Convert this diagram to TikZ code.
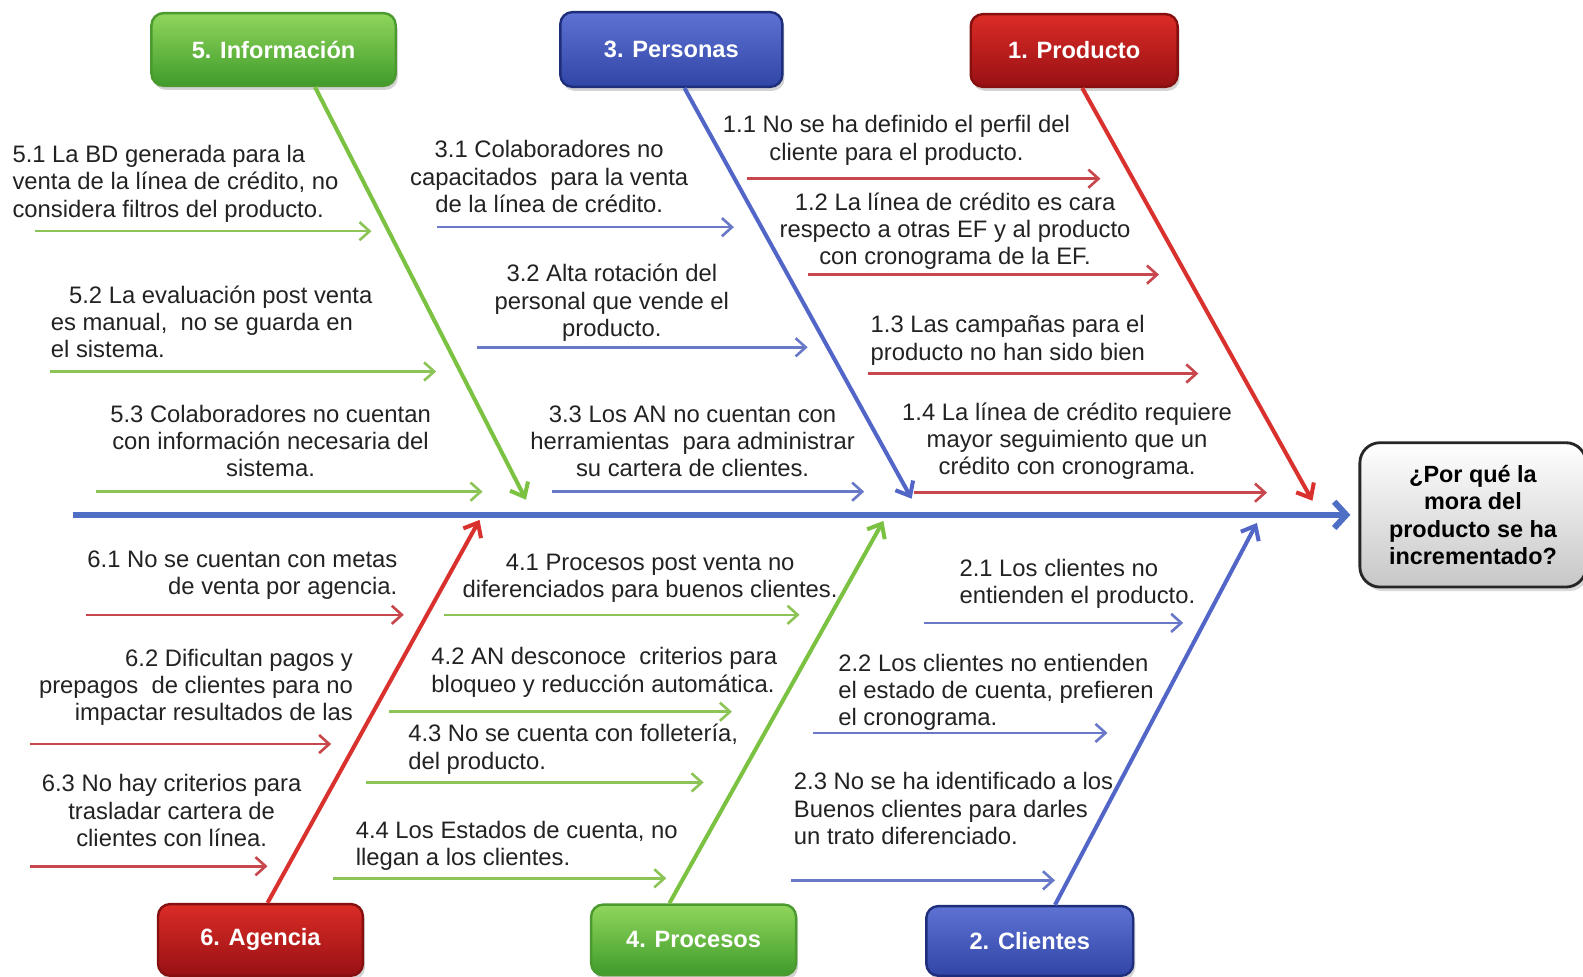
\documentclass[tikz,border=0pt]{standalone}
\usepackage{fontspec}
\setmainfont{Liberation Sans}
\usetikzlibrary{arrows.meta,shadows}

% line colours
\definecolor{grnL}{HTML}{7CC242}
\definecolor{grnS}{HTML}{8DC457}
\definecolor{bluL}{HTML}{5266C8}
\definecolor{bluS}{HTML}{6A78C8}
\definecolor{redL}{HTML}{D8312E}
\definecolor{redS}{HTML}{C8474D}
\definecolor{spineC}{HTML}{4F6FC4}
\definecolor{txt}{HTML}{222222}
% box colours
\definecolor{grnT}{HTML}{90D65C}
\definecolor{grnD}{HTML}{3F9B2B}
\definecolor{grnB}{HTML}{4A9A30}
\definecolor{bluT}{HTML}{5D72D2}
\definecolor{bluD}{HTML}{3045A6}
\definecolor{bluB}{HTML}{1E2E7A}
\definecolor{redT}{HTML}{DB2C26}
\definecolor{redD}{HTML}{981014}
\definecolor{redB}{HTML}{861010}

\tikzset{
  catbox/.style={rounded corners=6pt, line width=1.2pt, text=white,
    font=\fontsize{11.7}{13.5}\selectfont\bfseries, inner sep=0pt,
    drop shadow={opacity=0.35, shadow xshift=1pt, shadow yshift=-2pt}},
  greenbox/.style={catbox, draw=grnB, top color=grnT, bottom color=grnD},
  bluebox/.style={catbox, draw=bluB, top color=bluT, bottom color=bluD},
  redbox/.style={catbox, draw=redB, top color=redT, bottom color=redD},
  qbox/.style={rounded corners=10pt, draw=black!85, line width=1.4pt,
    top color=white, bottom color=black!22, text=black, align=center,
    font=\fontsize{11.6}{13.6}\selectfont\bfseries,
    minimum width=112pt, minimum height=71.5pt,
    drop shadow={opacity=0.3, shadow xshift=1.5pt, shadow yshift=-2pt}},
  bone/.style={line width=2pt, -{Straight Barb[length=6pt,width=10pt]}},
  sub/.style={line width=1.3pt, -{Straight Barb[length=5pt,width=9pt]}},
  spine/.style={line width=3pt, draw=spineC, -{Straight Barb[length=6pt,width=13pt]}},
  lbl/.style={font=\fontsize{11.8}{13.5}\selectfont, text=txt, inner sep=0pt},
}

\begin{document}
\begin{tikzpicture}[x=0.5pt,y=-0.5pt]
\useasboundingbox (0,0) rectangle (1568,967);

% category boxes
\node[greenbox, minimum width=121pt, minimum height=36pt] (b5) at (271,49) {5. Información};
\node[bluebox, minimum width=110pt, minimum height=37pt] (b3) at (665,49) {3. Personas};
\node[redbox, minimum width=102.5pt, minimum height=36pt] (b1) at (1064,50) {1. Producto};
\node[redbox, minimum width=101.5pt, minimum height=35.5pt] (b6) at (258,931) {6. Agencia};
\node[greenbox, minimum width=101.5pt, minimum height=35pt] (b4) at (687,931) {4. Procesos};
\node[bluebox, minimum width=102.5pt, minimum height=34.5pt] (b2) at (1020,932) {2. Clientes};

% effect box
\node[qbox] (q) at (1459,510) {¿Por qué la\\mora del\\producto se ha\\incrementado?};

% spine
\coordinate (sp0) at (72,510);
\draw[spine, shorten >=4pt] (sp0) -- (q.west |- sp0);

% bone tips on the spine
\coordinate (e5) at (521,495);
\coordinate (e3) at (903,494);
\coordinate (e1) at (1300,496);
\coordinate (e6) at (475,515);
\coordinate (e4) at (875,516);
\coordinate (e2) at (1245,518);

% bones
\draw[bone, draw=grnL] ([xshift=20.5pt]b5.south) -- (e5);
\draw[bone, draw=bluL] ([xshift=6.5pt]b3.south) -- (e3);
\draw[bone, draw=redL] ([xshift=4pt]b1.south) -- (e1);
\draw[bone, draw=redL] ([xshift=3.5pt]b6.north) -- (e6);
\draw[bone, draw=grnL] ([xshift=-12pt]b4.north) -- (e4);
\draw[bone, draw=bluL] ([xshift=12.5pt]b2.north) -- (e2);

% cause arrows
\foreach \n/\xa/\xb/\y/\c in {
  51/35/368/229/grnS, 52/50/432/368/grnS, 53/95/478/487/grnS,
  31/433/727/225/bluS, 32/472/800/344/bluS, 33/547/856/487/bluS,
  11/740/1090/177/redS, 12/800/1148/272/redS, 13/860/1187/370/redS, 14/905/1255/488/redS,
  61/85/400/609/redS, 62/30/328/737/redS, 63/30/265/858/redS,
  41/440/792/609/grnS, 42/385/725/705/grnS, 43/363/697/775/grnS, 44/330/660/870/grnS,
  21/915/1172/617/bluS, 22/805/1097/726/bluS, 23/783/1045/872/bluS}
{
  \coordinate (t\n) at (\xa,\y);
  \coordinate (h\n) at (\xb,\y);
  \draw[sub, draw=\c] (t\n) -- (h\n);
}

% cause labels: 5. Información
\node[lbl, align=left, anchor=west] (l51) at (12,182)
  {5.1 La BD generada para la\\venta de la línea de crédito, no\\considera filtros del producto.};
\node[lbl, align=left, anchor=west] (l52) at (50,319)
  {\hspace*{9pt}5.2 La evaluación post venta\\es manual,\ \ no se guarda en\\el sistema.};
\node[lbl, align=center] (l53) at (268,437)
  {5.3 Colaboradores no cuentan\\con información necesaria del\\sistema.};

% 3. Personas
\node[lbl, align=center] (l31) at (544,175)
  {3.1 Colaboradores no\\capacitados\ \ para la venta\\de la línea de crédito.};
\node[lbl, align=center] (l32) at (606,300)
  {3.2 Alta rotación del\\personal que vende el\\producto.};
\node[lbl, align=center] (l33) at (686,437)
  {3.3 Los AN no cuentan con\\herramientas\ \ para administrar\\su cartera de clientes.};

% 1. Producto
\node[lbl, align=center] (l11) at (888,139)
  {1.1 No se ha definido el perfil del\\cliente para el producto.};
\node[lbl, align=center] (l12) at (946,229)
  {1.2 La línea de crédito es cara\\respecto a otras EF y al producto\\con cronograma de la EF.};
\node[lbl, align=left, anchor=west] (l13) at (862,337)
  {1.3 Las campañas para el\\producto no han sido bien};
\node[lbl, align=center] (l14) at (1057,437)
  {1.4 La línea de crédito requiere\\mayor seguimiento que un\\crédito con cronograma.};

% 6. Agencia
\node[lbl, align=right, anchor=east] (l61) at (394,570)
  {6.1 No se cuentan con metas\\de venta por agencia.};
\node[lbl, align=right, anchor=east] (l62) at (350,681)
  {6.2 Dificultan pagos y\\prepagos\ \ de clientes para no\\impactar resultados de las};
\node[lbl, align=center] (l63) at (170,803)
  {6.3 No hay criterios para\\trasladar cartera de\\clientes con línea.};

% 4. Procesos
\node[lbl, align=center] (l41) at (644,573)
  {4.1 Procesos post venta no\\diferenciados para buenos clientes.};
\node[lbl, align=left, anchor=west] (l42) at (427,666)
  {4.2 AN desconoce\ \ criterios para\\bloqueo y reducción automática.};
\node[lbl, align=left, anchor=west] (l43) at (404,742)
  {4.3 No se cuenta con folletería,\\del producto.};
\node[lbl, align=left, anchor=west] (l44) at (352,838)
  {4.4 Los Estados de cuenta, no\\llegan a los clientes.};

% 2. Clientes
\node[lbl, align=left, anchor=west] (l21) at (950,578)
  {2.1 Los clientes no\\entienden el producto.};
\node[lbl, align=left, anchor=west] (l22) at (830,686)
  {2.2 Los clientes no entienden\\el estado de cuenta, prefieren\\el cronograma.};
\node[lbl, align=left, anchor=west] (l23) at (786,801)
  {2.3 No se ha identificado a los\\Buenos clientes para darles\\un trato diferenciado.};
\end{tikzpicture}
\end{document}
